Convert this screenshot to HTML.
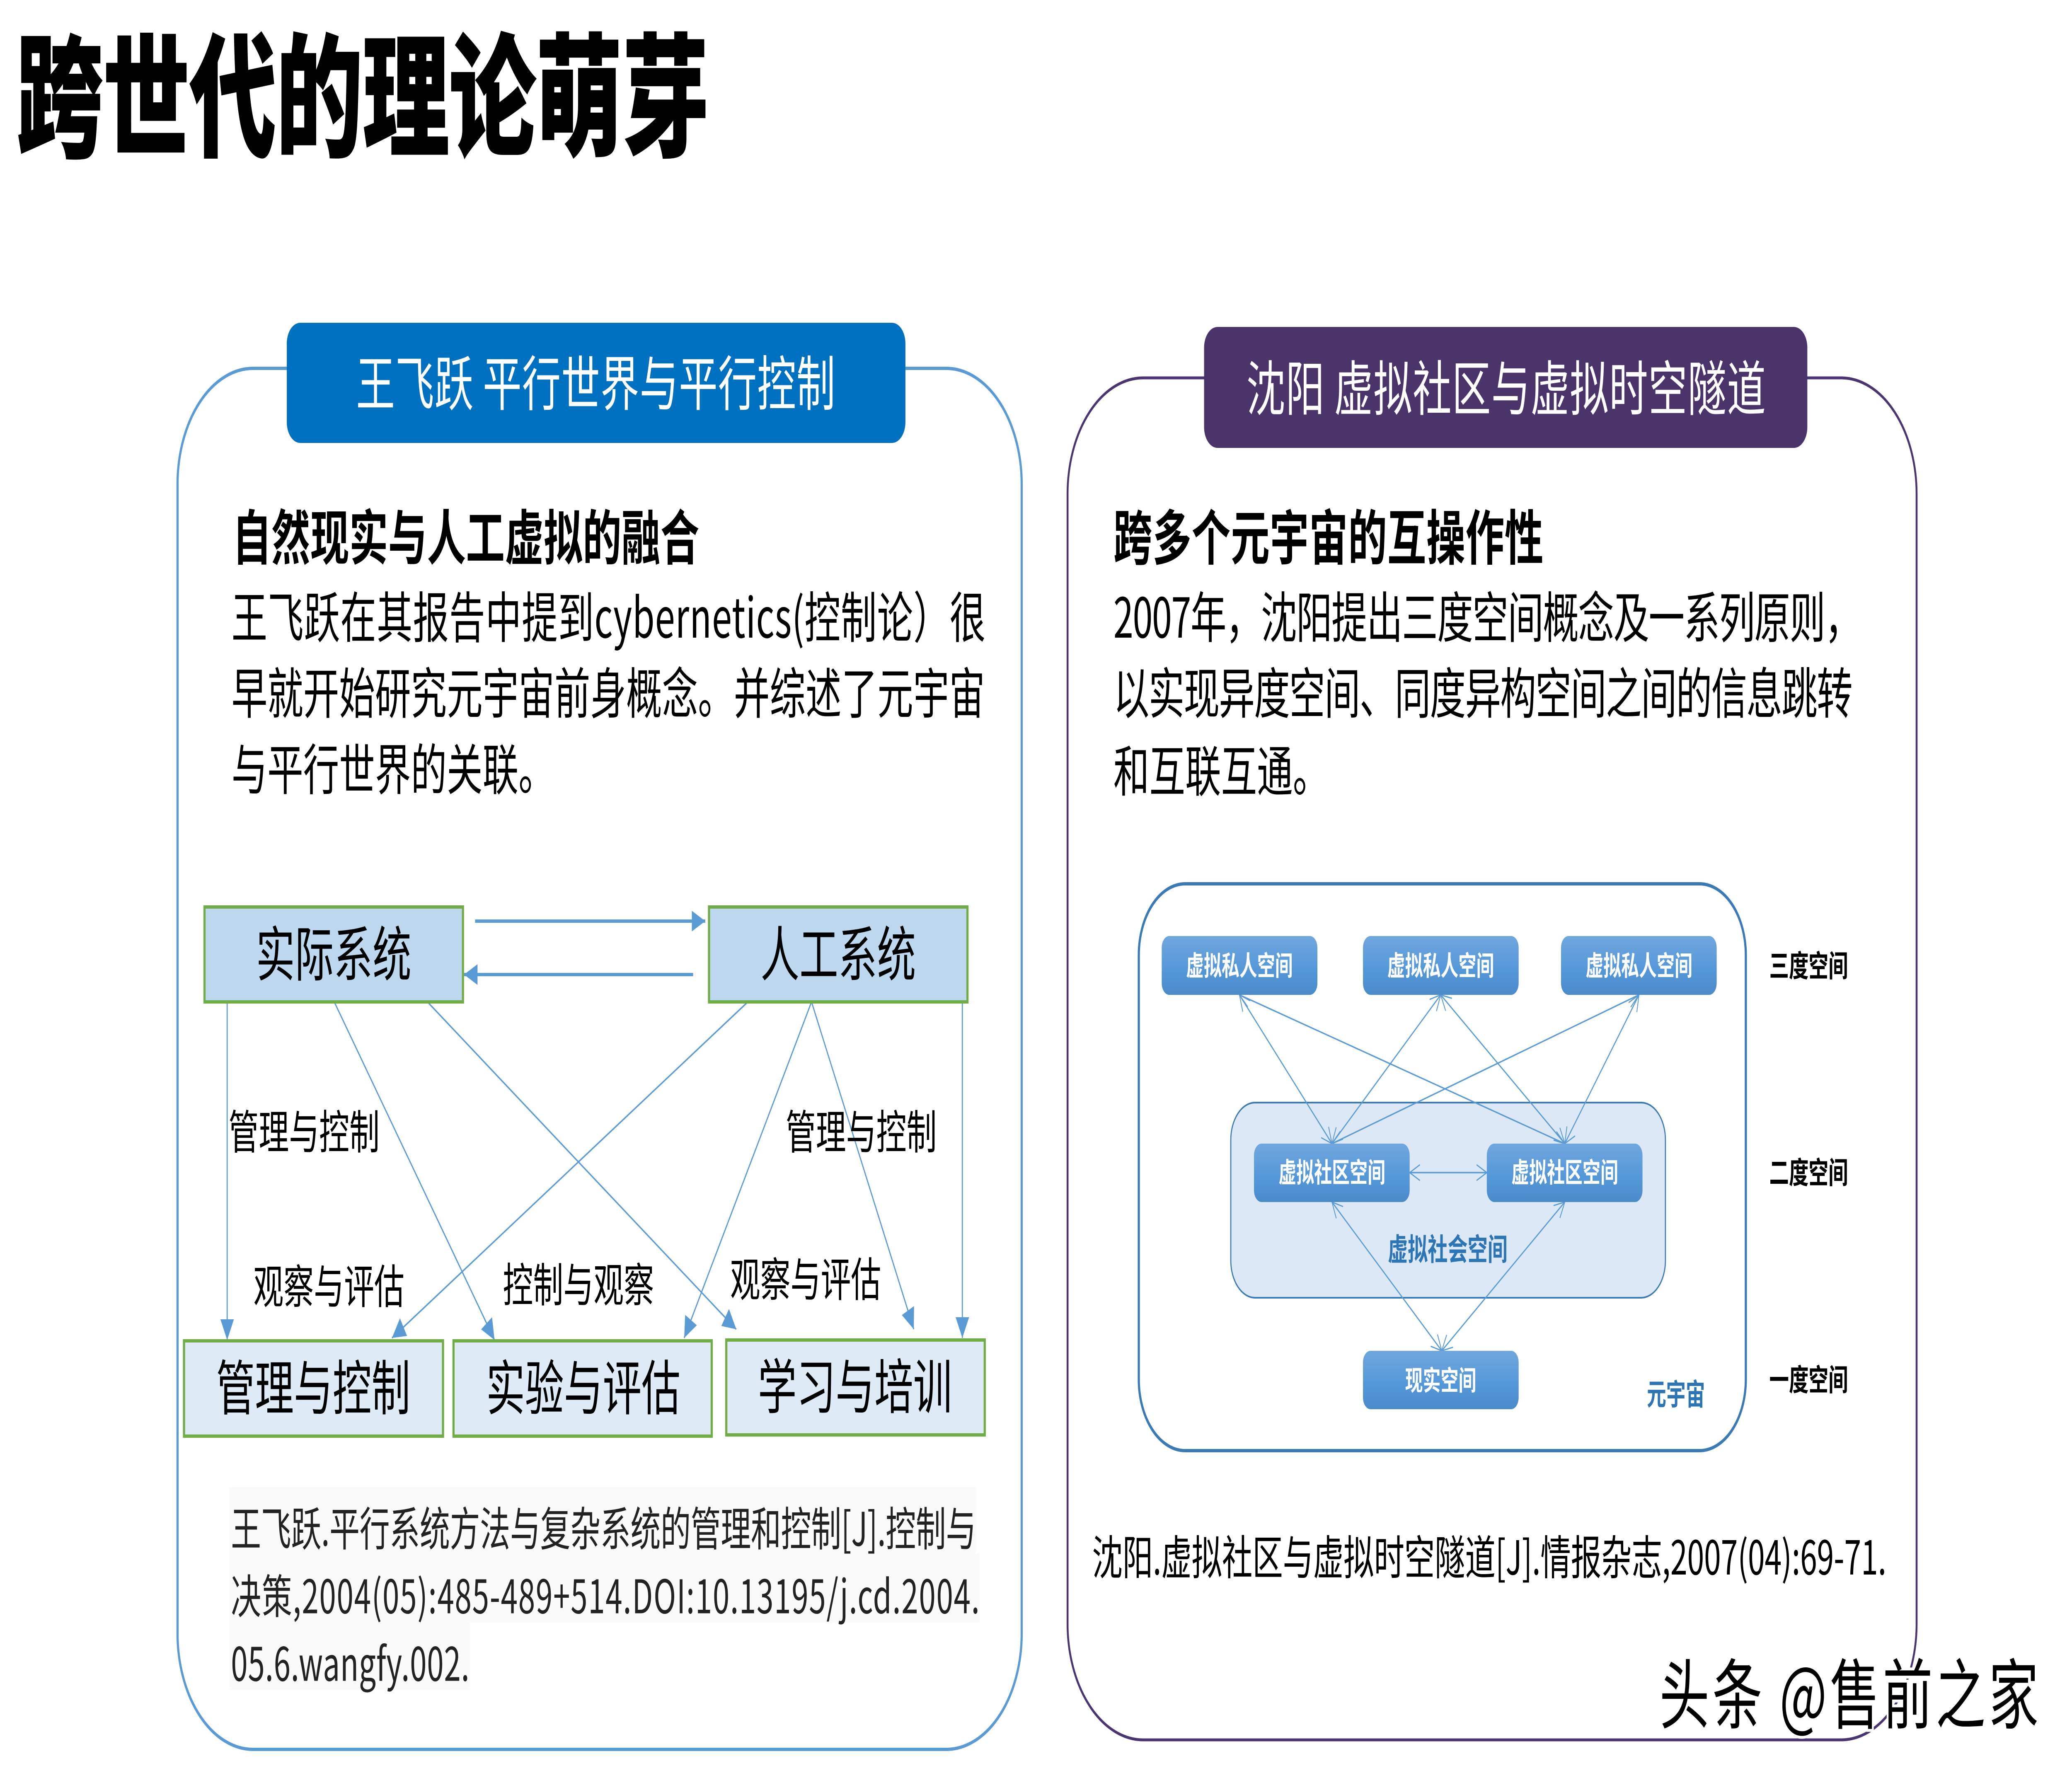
<!DOCTYPE html>
<html lang="zh-CN"><head><meta charset="utf-8"><title>跨世代的理论萌芽</title>
<style>html,body{margin:0;padding:0;background:#fff;width:100%;height:100%;overflow:hidden}svg{display:block;width:100vw;height:100vh}
text{font-family:"Noto Sans CJK SC","Liberation Sans",sans-serif;dominant-baseline:central;transform:translateY(-.06em)}
.b{font-weight:700}</style></head><body>
<svg xmlns="http://www.w3.org/2000/svg" viewBox="0 0 7680 4320" preserveAspectRatio="none">
<defs>
<marker id="t" markerUnits="userSpaceOnUse" markerWidth="60" markerHeight="60" refX="50" refY="30" orient="auto"><path d="M0,5 L50,30 L0,55Z" fill="#5b9bd5"/></marker>
<marker id="o" markerUnits="userSpaceOnUse" markerWidth="50" markerHeight="50" refX="42" refY="25" orient="auto-start-reverse"><path d="M4,6 L42,25 L4,44" fill="none" stroke="#5b9bd5" stroke-width="3"/></marker>
<linearGradient id="g" x1="0" y1="0" x2="0" y2="1"><stop offset="0" stop-color="#71a7de"/><stop offset=".55" stop-color="#5598d9"/><stop offset="1" stop-color="#4a8bca"/></linearGradient>
</defs>
<rect width="7680" height="4320" fill="#fff"/>

<text x="61" y="232" font-size="322" font-weight="900" stroke="#000" stroke-width="2" textLength="2567" lengthAdjust="spacing">跨世代的理论萌芽</text>

<!-- panels -->
<rect x="658" y="889" width="3129" height="3333" rx="280" ry="280" fill="#fff" stroke="#5b9bd5" stroke-width="8"/>
<rect x="3957" y="912" width="3147" height="3287" rx="280" ry="280" fill="#fff" stroke="#4b3570" stroke-width="7"/>
<rect x="1063" y="779" width="2293" height="290" rx="50" fill="#0070c0"/>
<rect x="4463" y="789" width="2236" height="292" rx="50" fill="#4b3469"/>
<text x="1320" y="924" font-size="144" fill="#fff" textLength="1776" lengthAdjust="spacing">王飞跃 平行世界与平行控制</text>
<text x="4620" y="936" font-size="144" fill="#fff" textLength="1925" lengthAdjust="spacing">沈阳 虚拟社区与虚拟时空隧道</text>

<!-- left text -->
<text class="b" x="862" y="1296" font-size="144" textLength="1730" lengthAdjust="spacing">自然现实与人工虚拟的融合</text>
<text x="858" y="1490" font-size="133" textLength="2795" lengthAdjust="spacing">王飞跃在其报告中提到cybernetics(控制论）很</text>
<text x="858" y="1673" font-size="133" textLength="2793" lengthAdjust="spacing">早就开始研究元宇宙前身概念。并综述了元宇宙</text>
<text x="858" y="1857" font-size="133">与平行世界的关联。</text>

<!-- right text -->
<text class="b" x="4127" y="1296" font-size="144" textLength="1594" lengthAdjust="spacing">跨多个元宇宙的互操作性</text>
<text x="4127" y="1490" font-size="133" textLength="2770" lengthAdjust="spacing">2007年，沈阳提出三度空间概念及一系列原则，</text>
<text x="4127" y="1673" font-size="133" textLength="2740" lengthAdjust="spacing">以实现异度空间、同度异构空间之间的信息跳转</text>
<text x="4127" y="1861" font-size="133">和互联互通。</text>

<!-- left diagram lines -->
<g stroke="#5b9bd5" stroke-width="4" fill="none">
<line x1="842" y1="2418" x2="842" y2="3234" marker-end="url(#t)"/>
<line x1="1239" y1="2418" x2="1833" y2="3234" marker-end="url(#t)"/>
<line x1="1570" y1="2408" x2="2729" y2="3208" marker-end="url(#t)"/>
<line x1="2772" y1="2418" x2="1453" y2="3229" marker-end="url(#t)"/>
<line x1="3008" y1="2418" x2="2536" y2="3229" marker-end="url(#t)"/>
<line x1="3008" y1="2418" x2="3387" y2="3208" marker-end="url(#t)"/>
<line x1="3567" y1="2418" x2="3567" y2="3229" marker-end="url(#t)"/>
<line x1="1761" y1="2223" x2="2614" y2="2223" stroke-width="8" marker-end="url(#t)"/>
<line x1="2569" y1="2352" x2="1720" y2="2352" stroke-width="8" marker-end="url(#t)"/>
</g>
<g stroke="#70ad47" stroke-width="8">
<rect x="758" y="2189" width="958" height="229" fill="#bdd7ee"/>
<rect x="2628" y="2189" width="958" height="229" fill="#bdd7ee"/>
<rect x="682" y="3236" width="960" height="230" fill="#deeaf6"/>
<rect x="1681" y="3236" width="957" height="230" fill="#deeaf6"/>
<rect x="2692" y="3234" width="958" height="229" fill="#deeaf6"/>
</g>
<g font-size="144">
<text x="949" y="2301">实际系统</text>
<text x="2819" y="2301">人工系统</text>
<text x="801" y="3348">管理与控制</text>
<text x="1802" y="3348">实验与评估</text>
<text x="2809" y="3345">学习与培训</text>
</g>
<g font-size="112">
<text x="847" y="2731">管理与控制</text>
<text x="2912" y="2731">管理与控制</text>
<text x="939" y="3104">观察与评估</text>
<text x="1864" y="3100">控制与观察</text>
<text x="2706" y="3087">观察与评估</text>
</g>

<!-- left citation -->
<g fill="#fafafa">
<rect x="850" y="3589" width="2768" height="161"/>
<rect x="850" y="3750" width="2781" height="167"/>
<rect x="850" y="3917" width="892" height="161"/>
</g>
<g font-size="112" fill="#222">
<text x="856" y="3689" textLength="2762" lengthAdjust="spacing">王飞跃.平行系统方法与复杂系统的管理和控制[J].控制与</text>
<text x="856" y="3852" textLength="2775" lengthAdjust="spacing">决策,2004(05):485-489+514.DOI:10.13195/j.cd.2004.</text>
<text x="856" y="4015" textLength="884" lengthAdjust="spacing">05.6.wangfy.002.</text>
</g>

<!-- right diagram -->
<rect x="4221" y="2133" width="2250" height="1368" rx="172" ry="172" fill="#fff" stroke="#3a7ab5" stroke-width="8"/>
<rect x="4562" y="2661" width="1611" height="471" rx="90" ry="90" fill="#dce8f5" stroke="#3a7ab5" stroke-width="4"/>
<g stroke="#5b9bd5" stroke-width="3.5" fill="none" marker-start="url(#o)" marker-end="url(#o)">
<line x1="4594" y1="2401" x2="4937" y2="2760"/>
<line x1="4594" y1="2401" x2="5800" y2="2760"/>
<line x1="5340" y1="2401" x2="4937" y2="2760"/>
<line x1="5340" y1="2401" x2="5800" y2="2760"/>
<line x1="6075" y1="2401" x2="4937" y2="2760"/>
<line x1="6075" y1="2401" x2="5800" y2="2760"/>
<line x1="4937" y1="2901" x2="5344" y2="3260"/>
<line x1="5800" y1="2901" x2="5344" y2="3260"/>
<line x1="5225" y1="2830" x2="5511" y2="2830"/>
</g>
<g fill="url(#g)">
<rect x="4306" y="2259" width="577" height="142" rx="28"/>
<rect x="5052" y="2259" width="577" height="142" rx="28"/>
<rect x="5786" y="2259" width="577" height="142" rx="28"/>
<rect x="4648" y="2760" width="577" height="141" rx="28"/>
<rect x="5511" y="2760" width="577" height="141" rx="28"/>
<rect x="5052" y="3260" width="577" height="141" rx="28"/>
</g>
<g font-size="66" fill="#fff" text-anchor="middle">
<text class="b" x="4594" y="2330">虚拟私人空间</text>
<text class="b" x="5340" y="2330">虚拟私人空间</text>
<text class="b" x="6075" y="2330">虚拟私人空间</text>
<text class="b" x="4937" y="2829">虚拟社区空间</text>
<text class="b" x="5800" y="2829">虚拟社区空间</text>
<text class="b" x="5340" y="3331">现实空间</text>
</g>
<text class="b" x="5144" y="3014" font-size="74" fill="#2e75b6">虚拟社会空间</text>
<text class="b" x="6104" y="3365" font-size="72" fill="#2e75b6">元宇宙</text>
<g font-size="73">
<text class="b" x="6558" y="2330">三度空间</text>
<text class="b" x="6558" y="2829">二度空间</text>
<text class="b" x="6558" y="3329">一度空间</text>
</g>

<!-- right citation -->
<text x="4048" y="3758" font-size="113" textLength="2944" lengthAdjust="spacing">沈阳.虚拟社区与虚拟时空隧道[J].情报杂志,2007(04):69-71.</text>

<!-- watermark -->
<text x="6151" y="4088" font-size="185" fill="#000" stroke="#fff" stroke-width="14" paint-order="stroke" textLength="1405" lengthAdjust="spacing">头条 @售前之家</text>
</svg>
</body></html>
